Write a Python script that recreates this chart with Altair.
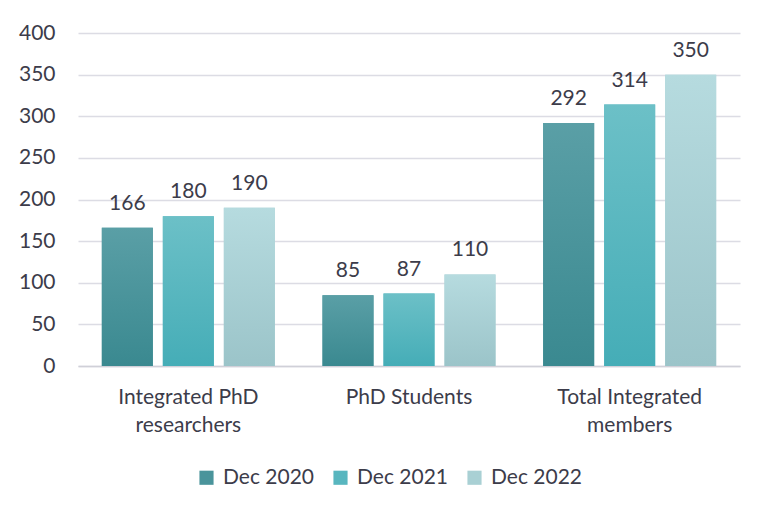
import altair as alt
import pandas as pd

categories = ["Integrated PhD researchers", "PhD Students", "Total Integrated members"]
series = ["Dec 2020", "Dec 2021", "Dec 2022"]
dec_2020 = [166, 85, 292]
dec_2021 = [180, 87, 314]
dec_2022 = [190, 110, 350]

legend_colors = ["#4a949b", "#58b6bf", "#a9d0d4"]
grad_top = ["#5a9fa6", "#6cc0c7", "#b6dbdf"]
grad_bottom = ["#3a8990", "#45adb7", "#9bc4c9"]

rows = []
for s, vals in zip(series, [dec_2020, dec_2021, dec_2022]):
    for c, v in zip(categories, vals):
        rows.append({"category": c, "series": s, "value": v})
df = pd.DataFrame(rows)

FONT = "Lato"
TXT = "#3c3c4a"
GRID = "#dcdce4"
FS = 21

label_expr = (
    "datum.label == 'Integrated PhD researchers' ? ['Integrated PhD', 'researchers'] : "
    "datum.label == 'Total Integrated members' ? ['Total Integrated', 'members'] : datum.label"
)

x_enc = alt.X(
    "category:N",
    sort=categories,
    scale=alt.Scale(paddingInner=0.216, paddingOuter=0.108),
    axis=alt.Axis(
        title=None, labelAngle=0, ticks=False, domain=True, domainColor="#d0d0d8",
        domainWidth=1.5, labelFontSize=FS, labelFont=FONT, labelColor=TXT,
        labelPadding=20, labelExpr=label_expr, labelLineHeight=28, grid=False,
        labelBaseline="top",
    ),
)
xo_enc = alt.XOffset("series:N", sort=series, scale=alt.Scale(paddingInner=0.164, paddingOuter=0))
y_enc = alt.Y(
    "value:Q",
    scale=alt.Scale(domain=[0, 400]),
    axis=alt.Axis(
        title=None, values=list(range(0, 401, 50)), ticks=False, domain=False,
        gridColor=GRID, gridWidth=1.5, labelFontSize=FS, labelFont=FONT,
        labelColor=TXT, labelPadding=23,
    ),
)

base = alt.Chart(df)

legend_bars = base.mark_bar().encode(
    x=x_enc, xOffset=xo_enc, y=y_enc,
    color=alt.Color(
        "series:N", sort=series,
        scale=alt.Scale(domain=series, range=legend_colors),
        legend=alt.Legend(
            title=None, orient="none", legendX=118, legendY=434, direction="horizontal",
            symbolType="square", symbolSize=200, symbolStrokeWidth=0,
            labelFontSize=FS, labelFont=FONT, labelColor=TXT, columnPadding=15,
            labelOffset=6,
        ),
    ),
)

layers = [legend_bars]
for s, top, bot in zip(series, grad_top, grad_bottom):
    grad = alt.Gradient(
        gradient="linear",
        stops=[alt.GradientStop(color=top, offset=0), alt.GradientStop(color=bot, offset=1)],
        x1=0, x2=0, y1=0, y2=1,
    )
    layers.append(
        base.transform_filter(alt.datum.series == s)
        .mark_bar(color=grad)
        .encode(x=x_enc, xOffset=xo_enc, y=y_enc)
    )

labels = base.mark_text(fontSize=FS, font=FONT, color=TXT, baseline="alphabetic", dy=-18).encode(
    x=x_enc, xOffset=xo_enc, y=y_enc, text="value:Q"
)
layers.append(labels)

chart = (
    alt.layer(*layers)
    .properties(
        width=662, height=333,
        autosize=alt.AutoSizeParams(type="none"),
        padding={"left": 70, "top": 25, "right": 20, "bottom": 144},
        background="white",
    )
    .configure_view(stroke=None)
)

chart.save("out.html", embed_options={"renderer": "svg", "actions": False})
